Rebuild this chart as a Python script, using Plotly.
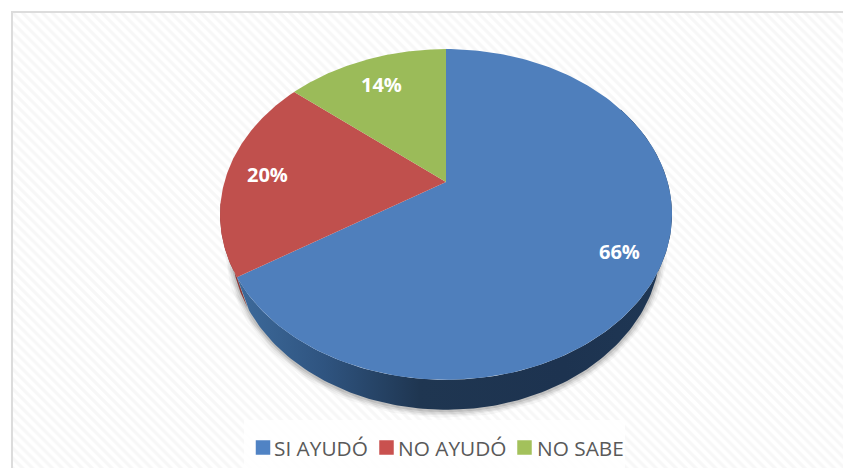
import numpy as np
import plotly.graph_objects as go

categories = ["SI AYUDÓ", "NO AYUDÓ", "NO SABE"]
values = [66, 20, 14]
labels = ["66%", "20%", "14%"]
top_colors = ["#4f7fbc", "#c0504d", "#9bbb59"]
swatch_colors = ["#5083c4", "#c9514f", "#a3c15b"]

W, H = 843, 468
CX, CY, A, B, K, DEPTH, BASE_SCALE = 446, 182, 221.6, 159, -0.196, 30, 0.95
LABEL_R = [0.825, 0.815, 0.775]
LEG_SWATCH_X = [263, 386.5, 524.5]
LEG_TEXT_X = [274, 398, 536.5]
LEG_Y = 447.5


def proj(theta_deg, r=1.0):
    t = np.radians(theta_deg)
    u, v = r * np.sin(t), -r * np.cos(t)
    d = 1 + K * v
    return CX + A * u / d, CY + B * v / d


def arc(a0, a1, n=160):
    return proj(np.linspace(a0, a1, n))


def base(x, y):
    return CX + (x - CX) * BASE_SCALE, y + DEPTH


fractions = np.array(values) / sum(values)
edges = np.concatenate([[0], np.cumsum(fractions) * 360])

fig = go.Figure()

# hatched background panel
fig.add_trace(go.Scatter(
    x=[12, W, W, 12, 12], y=[12, 12, H, H, 12], mode="lines", fill="toself",
    line=dict(width=0), fillcolor="#ffffff",
    fillpattern=dict(shape="\\", fgcolor="#efefef", bgcolor="#ffffff", size=7, solidity=0.45),
    hoverinfo="skip", showlegend=False))
fig.add_trace(go.Scatter(
    x=[12, 12, W], y=[H, 12, 12], mode="lines",
    line=dict(color="#dcdcdc", width=2), hoverinfo="skip", showlegend=False))

# soft shadow under the disc
sx, sy = base(*arc(70, 282))
for w, al in [(14, 0.035), (10, 0.05), (7, 0.07), (3, 0.10)]:
    fig.add_trace(go.Scatter(
        x=sx, y=sy + 1, mode="lines",
        line=dict(color=f"rgba(0,0,0,{al})", width=w),
        hoverinfo="skip", showlegend=False))

# red rim sliver at the left edge
rx, ry = arc(edges[1], edges[1] + 25, 60)
rbx, rby = base(rx, ry)
fig.add_trace(go.Scatter(
    x=np.concatenate([rx, rbx[::-1]]), y=np.concatenate([ry, rby[::-1]]),
    mode="lines", fill="toself", line=dict(width=0), fillcolor="#8c3836",
    hoverinfo="skip", showlegend=False))

# blue rim with gradient
bx, by = arc(60, edges[1])
bbx, bby = base(bx, by)
fig.add_trace(go.Scatter(
    x=np.concatenate([bx, bbx[::-1]]), y=np.concatenate([by, bby[::-1]]),
    mode="lines", fill="toself", line=dict(width=0),
    fillgradient=dict(type="horizontal",
                      colorscale=[[0, "#3d6a9b"], [0.2, "#2f5480"], [0.42, "#1f3651"],
                                  [0.75, "#1d3350"], [1, "#1f3754"]]),
    hoverinfo="skip", showlegend=False))

# top faces
for i, name in enumerate(categories):
    ax, ay = arc(edges[i], edges[i + 1])
    fig.add_trace(go.Scatter(
        x=np.concatenate([[CX], ax, [CX]]), y=np.concatenate([[CY], ay, [CY]]),
        mode="lines", fill="toself", line=dict(width=0), fillcolor=top_colors[i],
        name=name, hovertemplate=f"{name}: {labels[i]}<extra></extra>", showlegend=False))

# legend backing
fig.add_trace(go.Scatter(
    x=[244, 625, 625, 244, 244], y=[420, 420, H, H, 420], mode="lines", fill="toself",
    line=dict(width=0), fillcolor="rgba(255,255,255,0.85)",
    hoverinfo="skip", showlegend=False))

# legend swatches
fig.add_trace(go.Scatter(
    x=LEG_SWATCH_X, y=[LEG_Y] * 3, mode="markers",
    marker=dict(symbol="square", size=14.5, color=swatch_colors, line=dict(width=0)),
    hoverinfo="skip", showlegend=False))

annotations = []
mids = (edges[:-1] + edges[1:]) / 2
for i, lab in enumerate(labels):
    lx, ly = proj(mids[i], LABEL_R[i])
    annotations.append(dict(x=lx, y=ly, text=f"<b>{lab}</b>", showarrow=False, yshift=-1,
                            font=dict(family="Open Sans", size=20, color="#ffffff")))
for i, name in enumerate(categories):
    annotations.append(dict(x=LEG_TEXT_X[i], y=LEG_Y, text=name, showarrow=False,
                            xanchor="left", yanchor="middle", xshift=-2,
                            font=dict(family="Open Sans", size=20.8, color="#595959")))

fig.update_layout(
    width=W, height=H, autosize=False,
    margin=dict(l=0, r=0, t=0, b=0), paper_bgcolor="#ffffff", plot_bgcolor="#ffffff",
    xaxis=dict(range=[0, W], visible=False, fixedrange=True),
    yaxis=dict(range=[H, 0], visible=False, fixedrange=True),
    annotations=annotations, showlegend=False)

fig.write_html("out.html", config={"displayModeBar": False},
               post_script="document.body.style.margin='0';")
